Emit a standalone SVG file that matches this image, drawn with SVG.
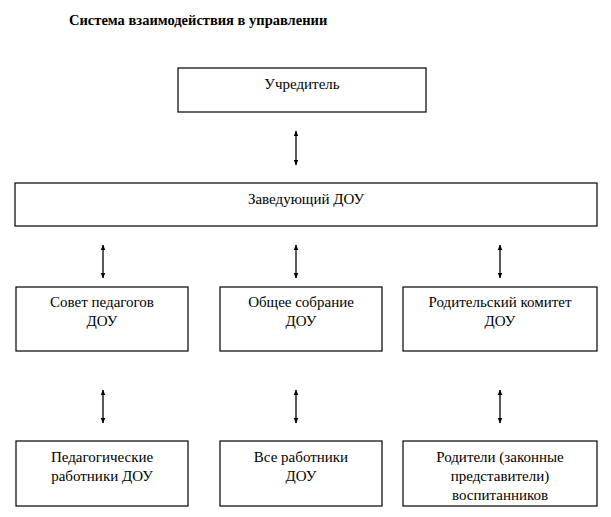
<svg xmlns="http://www.w3.org/2000/svg" width="611" height="517" viewBox="0 0 611 517">
<style>
rect{fill:#fff;stroke:#000;stroke-width:1.2}
text{font-family:"Liberation Serif",serif;font-size:15px;text-anchor:middle;fill:#000}
.t{font-weight:bold;text-anchor:start;font-size:14.5px}
line{stroke:#000;stroke-width:1.3;marker-start:url(#a);marker-end:url(#a)}
</style>
<defs><marker id="a" viewBox="0 0 10 10" refX="9" refY="5" markerWidth="6" markerHeight="6" markerUnits="userSpaceOnUse" orient="auto-start-reverse"><path d="M0,1 L10,5 L0,9 Z" fill="#000"/></marker></defs>
<rect width="611" height="517" style="stroke:none"/>
<text class="t" x="69" y="25">Система взаимодействия в управлении</text>
<g id="n1"><rect x="178" y="68" width="248" height="44"/><text x="302" y="89">Учредитель</text></g>
<g id="n2"><rect x="15" y="183" width="582" height="43"/><text x="306" y="204">Заведующий ДОУ</text></g>
<g id="n3"><rect x="16" y="287" width="172" height="64"/><text x="102" y="307">Совет педагогов</text><text x="102" y="326">ДОУ</text></g>
<g id="n4"><rect x="220" y="287" width="162" height="64"/><text x="301" y="307">Общее собрание</text><text x="301" y="326">ДОУ</text></g>
<g id="n5"><rect x="403" y="287" width="194" height="64"/><text x="500" y="307">Родительский комитет</text><text x="500" y="326">ДОУ</text></g>
<g id="n6"><rect x="16" y="441" width="172" height="65"/><text x="102" y="462">Педагогические</text><text x="102" y="481">работники ДОУ</text></g>
<g id="n7"><rect x="220" y="441" width="162" height="65"/><text x="301" y="462">Все работники</text><text x="301" y="481">ДОУ</text></g>
<g id="n8"><rect x="403" y="441" width="194" height="65"/><text x="500" y="462">Родители (законные</text><text x="500" y="481">представители)</text><text x="500" y="500">воспитанников</text></g>
<g id="edges">
<line x1="296" y1="131" x2="296" y2="165"/>
<line x1="103" y1="245" x2="103" y2="278"/>
<line x1="296" y1="245" x2="296" y2="278"/>
<line x1="500" y1="245" x2="500" y2="278"/>
<line x1="103" y1="390" x2="103" y2="423"/>
<line x1="296" y1="390" x2="296" y2="423"/>
<line x1="500" y1="390" x2="500" y2="423"/>
</g>
</svg>
